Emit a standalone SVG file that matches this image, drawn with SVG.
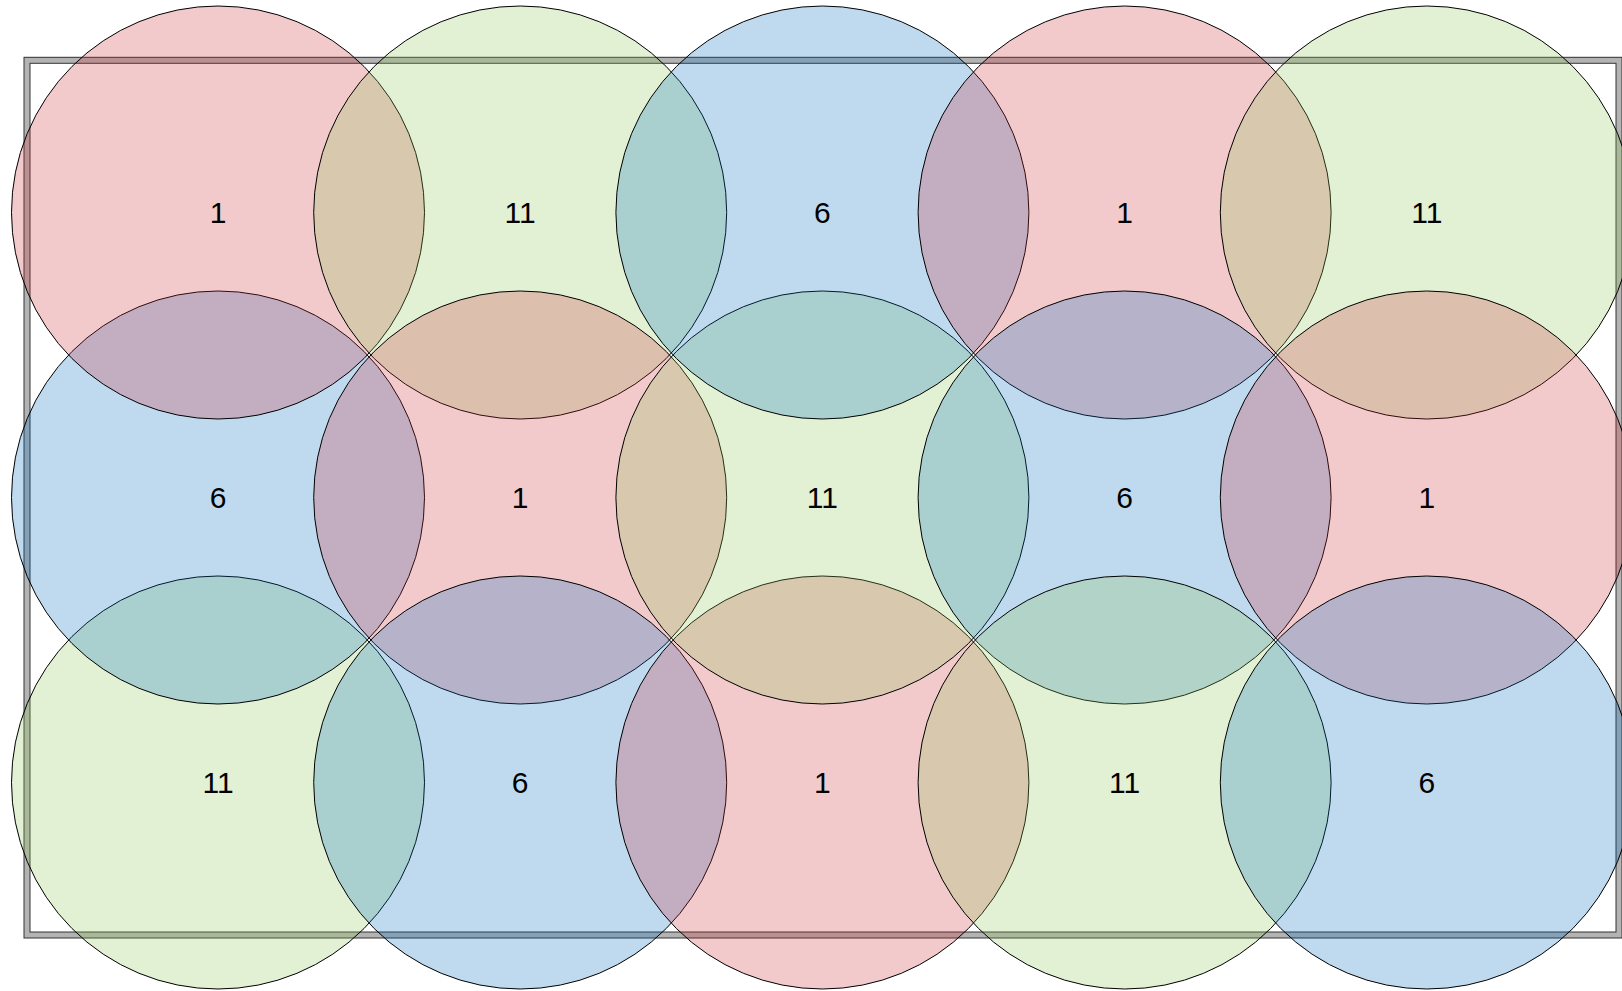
<svg xmlns="http://www.w3.org/2000/svg" width="1622" height="991" viewBox="0 0 1622 991">
<style>
.c{stroke:#000;stroke-width:1}
.r{fill:rgb(203,43,51);fill-opacity:0.25}
.g{fill:rgb(139,195,83);fill-opacity:0.25}
.b{fill:rgb(0,107,191);fill-opacity:0.25}
.t{font-family:"Liberation Sans",Arial,sans-serif;font-size:30px;fill:#000;text-anchor:middle}
</style>
<rect width="1622" height="991" fill="#fff"/>
<g id="frame">
<rect x="27" y="60.3" width="1592" height="874.7" fill="none" stroke="#333" stroke-width="7"/>
<rect x="27" y="60.3" width="1592" height="874.7" fill="none" stroke="#b3b3b3" stroke-width="5"/>
</g>
<g id="connectors"></g>
<g id="n20"><circle class="c g" cx="218" cy="782.5" r="206.5"/><text class="t" x="218" y="793.3">11</text></g>
<g id="n10"><circle class="c b" cx="218" cy="497.5" r="206.5"/><text class="t" x="218" y="508.3">6</text></g>
<g id="n00"><circle class="c r" cx="218" cy="212.5" r="206.5"/><text class="t" x="218" y="223.3">1</text></g>
<g id="n01"><circle class="c g" cx="520.2" cy="212.5" r="206.5"/><text class="t" x="520.2" y="223.3">11</text></g>
<g id="n11"><circle class="c r" cx="520.2" cy="497.5" r="206.5"/><text class="t" x="520.2" y="508.3">1</text></g>
<g id="n21"><circle class="c b" cx="520.2" cy="782.5" r="206.5"/><text class="t" x="520.2" y="793.3">6</text></g>
<g id="n22"><circle class="c r" cx="822.4" cy="782.5" r="206.5"/><text class="t" x="822.4" y="793.3">1</text></g>
<g id="n12"><circle class="c g" cx="822.4" cy="497.5" r="206.5"/><text class="t" x="822.4" y="508.3">11</text></g>
<g id="n02"><circle class="c b" cx="822.4" cy="212.5" r="206.5"/><text class="t" x="822.4" y="223.3">6</text></g>
<g id="n03"><circle class="c r" cx="1124.6" cy="212.5" r="206.5"/><text class="t" x="1124.6" y="223.3">1</text></g>
<g id="n13"><circle class="c b" cx="1124.6" cy="497.5" r="206.5"/><text class="t" x="1124.6" y="508.3">6</text></g>
<g id="n23"><circle class="c g" cx="1124.6" cy="782.5" r="206.5"/><text class="t" x="1124.6" y="793.3">11</text></g>
<g id="n04"><circle class="c g" cx="1426.8" cy="212.5" r="206.5"/><text class="t" x="1426.8" y="223.3">11</text></g>
<g id="n14"><circle class="c r" cx="1426.8" cy="497.5" r="206.5"/><text class="t" x="1426.8" y="508.3">1</text></g>
<g id="n24"><circle class="c b" cx="1426.8" cy="782.5" r="206.5"/><text class="t" x="1426.8" y="793.3">6</text></g>
</svg>
